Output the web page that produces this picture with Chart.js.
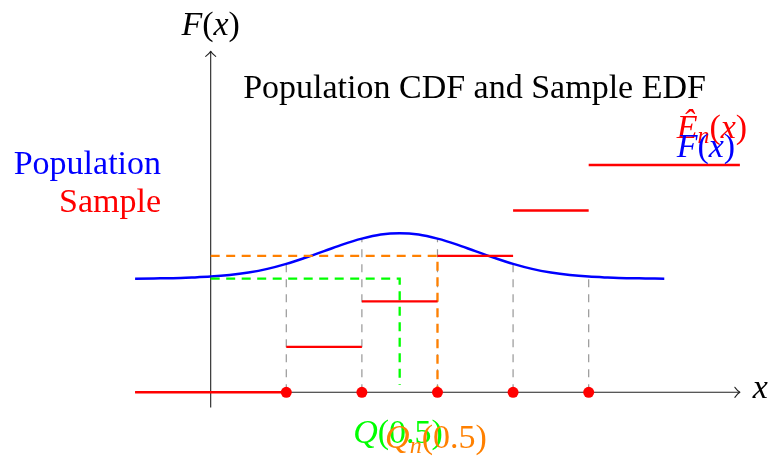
<!DOCTYPE html>
<html><head><meta charset="utf-8">
<script src="https://cdn.jsdelivr.net/npm/chart.js@4/dist/chart.umd.min.js"></script>
<style>html,body{margin:0;padding:0;background:#fff;overflow:hidden}canvas{display:block}</style>
</head><body><canvas id="c" width="768" height="456" style="width:768px;height:456px"></canvas>
<script>
// ---- data ----
const cdfX = [-1,-0.75,-0.5,-0.25,0,0.25,0.5,0.75,1,1.25,1.5,1.75,2,2.25,2.5,2.75,3,3.25,3.5,3.75,4,4.25,4.5,4.75,5,5.25,5.5,5.75,6];
const cdfY = [0.500,0.501,0.502,0.505,0.509,0.516,0.527,0.543,0.565,0.592,0.621,0.651,0.676,0.694,0.700,0.694,0.676,0.651,0.621,0.592,0.565,0.543,0.527,0.516,0.509,0.505,0.502,0.501,0.500];
const sampleX = [1,2,3,4,5];
const edfLevels = [0,0.2,0.4,0.6,0.8,1.0];
const edfRange = [-1,7];
const quantileLevel = 0.5;
const popQuantile = 2.5;
const sampleQuantile = 3;
const sampleQuantileLevel = 0.6;
const xAxisRange = [-1,7];
const yAxisRange = [-0.067,1.5];

// ---- derived series ----
const cdfData = cdfX.map((x,i)=>({x, y:cdfY[i]}));
const bp = [edfRange[0], ...sampleX, edfRange[1]];
const edfData = [];
edfLevels.forEach((lv,i)=>{ edfData.push({x:bp[i],y:lv},{x:bp[i+1],y:lv},{x:bp[i+1],y:null}); });
const dotData = sampleX.map(x=>({x, y:0}));
const greyData = [];
sampleX.forEach(x=>{ const k = cdfX.indexOf(x); greyData.push({x,y:0},{x,y:cdfY[k]},{x,y:null}); });
const greenData = [{x:0,y:quantileLevel},{x:popQuantile,y:quantileLevel},{x:popQuantile,y:0.032}];
const orangeData = [{x:0,y:sampleQuantileLevel},{x:sampleQuantile,y:sampleQuantileLevel},{x:sampleQuantile,y:0}];
const axisData = [{x:xAxisRange[0],y:0},{x:xAxisRange[1],y:0},{x:null,y:null},{x:0,y:yAxisRange[0]},{x:0,y:yAxisRange[1]}];

const SERIF = '"Liberation Serif", "DejaVu Serif", serif';
function runsWidth(ctx, runs){ let w=0; runs.forEach(r=>{ ctx.font=(r.it?'italic ':'')+r.s+'px '+SERIF; w+=ctx.measureText(r.t).width; }); return w; }
function drawRuns(ctx, runs, x, y, align, color){
  const w = runsWidth(ctx, runs);
  let cx = align==='center' ? x-w/2 : align==='right' ? x-w : x;
  ctx.fillStyle = color; ctx.textBaseline='alphabetic'; ctx.textAlign='left';
  runs.forEach(r=>{ ctx.font=(r.it?'italic ':'')+r.s+'px '+SERIF; ctx.fillText(r.t, cx, y+(r.dy||0)); cx+=ctx.measureText(r.t).width; });
}
const S = 34;
const SS = 24;
const labels = [
  {runs:[{t:'Population CDF and Sample EDF',s:S}], x:3.49, y:1.2935, align:'center', color:'#000'},
  {runs:[{t:'F',s:S,it:true},{t:'(',s:S},{t:'x',s:S,it:true},{t:')',s:S}], x:0, y:1.574, align:'center', color:'#000'},
  {runs:[{t:'Population',s:S}], x:-0.657, y:0.960, align:'right', color:'#0000ff'},
  {runs:[{t:'Sample',s:S}], x:-0.657, y:0.7946, align:'right', color:'#ff0000'},
  {runs:[{t:'Ê',s:S,it:true},{t:'n',s:SS,it:true,dy:5},{t:'(',s:S},{t:'x',s:S,it:true},{t:')',s:S}], x:6.164, y:1.119, align:'left', color:'#ff0000'},
  {runs:[{t:'F',s:S,it:true},{t:'(',s:S},{t:'x',s:S,it:true},{t:')',s:S}], x:6.164, y:1.0365, align:'left', color:'#0000ff'},
  {runs:[{t:'Q',s:S,it:true},{t:'(0.5)',s:S}], x:2.478, y:-0.2218, align:'center', color:'#00ff00'},
  {runs:[{t:'Q',s:S,it:true},{t:'n',s:SS,it:true,dy:5},{t:'(0.5)',s:S}], x:2.98, y:-0.2438, align:'center', color:'#ff8000'},
  {runs:[{t:'x',s:S,it:true}], x:7.17, y:-0.025, align:'left', color:'#000'}
];

const overlay = {
  id:'overlay',
  afterDatasetsDraw(chart){
    const ctx = chart.ctx, xs = chart.scales.x, ys = chart.scales.y;
    ctx.save();
    ctx.strokeStyle='#222'; ctx.lineWidth=1.1; ctx.lineCap='round'; ctx.lineJoin='round';
    const tx = xs.getPixelForValue(xAxisRange[1]), ty0 = ys.getPixelForValue(0);
    ctx.beginPath(); ctx.moveTo(tx-5,ty0-5); ctx.quadraticCurveTo(tx-2,ty0-1,tx,ty0); ctx.quadraticCurveTo(tx-2,ty0+1,tx-5,ty0+5); ctx.stroke();
    const ax = xs.getPixelForValue(0), ay = ys.getPixelForValue(yAxisRange[1]);
    ctx.beginPath(); ctx.moveTo(ax-5,ay+5); ctx.quadraticCurveTo(ax-1,ay+2,ax,ay); ctx.quadraticCurveTo(ax+1,ay+2,ax+5,ay+5); ctx.stroke();
    labels.forEach(l=>drawRuns(ctx, l.runs, xs.getPixelForValue(l.x), ys.getPixelForValue(l.y), l.align, l.color));
    ctx.restore();
  }
};

new Chart(document.getElementById('c'), {
  type:'line',
  data:{ datasets:[
    {label:'dots', data:dotData, showLine:false, pointRadius:5.5, pointBackgroundColor:'#ff0000', pointBorderWidth:0, order:0},
    {label:'EDF', data:edfData, borderColor:'#ff0000', borderWidth:2.4, pointRadius:0, spanGaps:false, order:1},
    {label:'orange', data:orangeData, borderColor:'#ff8000', borderWidth:2.3, borderDash:[9,6.5], pointRadius:0, order:2},
    {label:'green', data:greenData, borderColor:'#00ff00', borderWidth:2.3, borderDash:[9,6.5], pointRadius:0, order:3},
    {label:'CDF', data:cdfData, borderColor:'#0000ff', borderWidth:2.5, pointRadius:0, cubicInterpolationMode:'monotone', order:4},
    {label:'grey', data:greyData, borderColor:'rgba(140,140,140,0.9)', borderWidth:1.2, borderDash:[8,7], pointRadius:0, spanGaps:false, order:5},
    {label:'axes', data:axisData, borderColor:'#222', borderWidth:1.1, pointRadius:0, spanGaps:false, order:6}
  ]},
  options:{
    responsive:false, animation:false, devicePixelRatio:1,
    layout:{padding:0, autoPadding:false},
    plugins:{legend:{display:false}, tooltip:{enabled:false}},
    scales:{
      x:{type:'linear', min:-2.787, max:7.372, display:false},
      y:{type:'linear', min:-0.2802, max:1.7259, display:false}
    }
  },
  plugins:[overlay]
});
</script>
</body></html>
